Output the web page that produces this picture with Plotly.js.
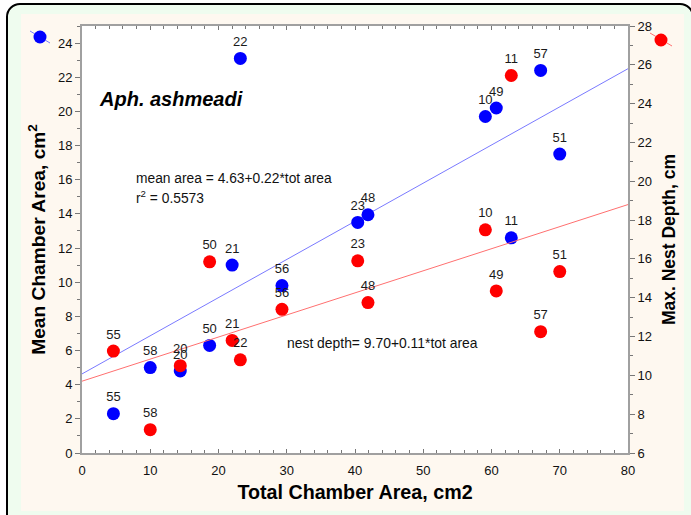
<!DOCTYPE html>
<html>
<head>
<meta charset="utf-8">
<script src="https://cdn.plot.ly/plotly-3.0.1.min.js"></script>
<style>
  html, body { margin:0; padding:0; width:691px; height:515px; overflow:hidden; background:#ffffff; }
  #frame { position:absolute; left:6px; top:3px; width:684px; height:540px; border:2.5px solid #000; border-radius:14px; background:#effcef; }
  #cream { position:absolute; left:21px; top:14px; width:663px; height:497px; background:#fef8f0; }
  #chart { position:absolute; left:0; top:0; width:691px; height:515px; }
</style>
</head>
<body>
<div id="frame"></div>
<div id="cream"></div>
<div id="chart"></div>
<script>
// Nest labels (colony ids)
const nestIds      = ['55','58','20','50','21','22','56','23','48','10','49','11','57','51'];
// Total chamber area, cm2 (x)
const totalArea    = [4.6, 10.0, 14.4, 18.7, 22.0, 23.2, 29.3, 40.4, 41.9, 59.1, 60.7, 62.9, 67.2, 70.0];
// Mean chamber area, cm2 (left axis, blue)
const meanArea     = [2.3, 5.0, 4.8, 6.3, 11.0, 23.1, 9.8, 13.5, 13.95, 19.7, 20.2, 12.6, 22.4, 17.5];
// Max nest depth, cm (right axis, red)
const nestDepth    = [11.25, 7.2, 10.5, 15.85, 11.8, 10.8, 13.4, 15.9, 13.75, 17.5, 14.35, 25.45, 12.25, 15.35];
// Regression lines
const fitX         = [0, 80];
const fitMean      = [4.63, 22.5];
const fitDepth     = [9.7, 18.8];

const FAM = 'Liberation Sans, Arial, sans-serif';
const labelFont = {family:FAM, size:13, color:'#1a1a1a'};

const traces = [
  {x: fitX, y: fitMean, mode:'lines', line:{color:'#7a7aff', width:1}, xaxis:'x', yaxis:'y', hoverinfo:'skip', showlegend:false},
  {x: fitX, y: fitDepth, mode:'lines', line:{color:'#ff7070', width:1}, xaxis:'x', yaxis:'y2', hoverinfo:'skip', showlegend:false},
  {x: totalArea, y: nestDepth, text: nestIds, mode:'markers+text', textposition:'top center',
   textfont: labelFont, marker:{color:'#ff0000', size:13}, xaxis:'x', yaxis:'y2', showlegend:false, cliponaxis:false},
  {x: totalArea, y: meanArea, text: nestIds, mode:'markers+text', textposition:'top center',
   textfont: labelFont, marker:{color:'#0000ff', size:13}, xaxis:'x', yaxis:'y', showlegend:false, cliponaxis:false}
];

const axisCommon = {
  showgrid:false, zeroline:false, showline:true, linecolor:'#a0a0a0', linewidth:2,
  tickcolor:'#777', tickfont:{family:FAM, size:13, color:'#111'}
};

const pxW = 546, pxH = 427;
function px(xp){ return (xp-82)/pxW; }
function py(yp){ return (453-yp)/pxH; }
const rx = 6.5/pxW, ry = 6.5/pxH;

const layout = {
  width:691, height:515,
  margin:{l:82, r:63, t:26, b:62},
  paper_bgcolor:'rgba(0,0,0,0)',
  plot_bgcolor:'#ffffff',
  font:{family:FAM, color:'#000'},
  xaxis: Object.assign({}, axisCommon, {
    range:[0,80], dtick:10, tick0:0, ticks:'inside', ticklen:4, mirror:'ticks',
    ticklabelstandoff:4,
    minor:{dtick:2, ticks:'inside', ticklen:3, tickcolor:'#777'},
    title:{text:'Total Chamber Area, cm2', font:{size:19.7, family:FAM, weight:'bold', color:'#000'}, standoff:9}
  }),
  yaxis: Object.assign({}, axisCommon, {
    range:[0,25], dtick:2, tick0:0, ticks:'outside', ticklen:5,
    minor:{dtick:1, ticks:'outside', ticklen:3, tickcolor:'#777'},
    title:{text:'Mean Chamber Area, cm<sup>2</sup>', font:{size:19.2, family:FAM, weight:'bold', color:'#000'}, standoff:7}
  }),
  yaxis2: Object.assign({}, axisCommon, {
    range:[6,28], dtick:2, tick0:6, ticks:'outside', ticklen:5, overlaying:'y', side:'right',
    minor:{dtick:1, ticks:'outside', ticklen:3, tickcolor:'#777'},
    title:{text:'Max. Nest Depth, cm', font:{size:17.5, family:FAM, weight:'bold', color:'#000'}, standoff:12}
  }),
  annotations:[
    {xref:'paper', yref:'paper', x:px(97), y:py(99), xanchor:'left', yanchor:'middle', showarrow:false,
     text:'<b><i>Aph. ashmeadi</i></b>', font:{size:20, color:'#000'}},
    {xref:'paper', yref:'paper', x:px(134), y:py(179), xanchor:'left', yanchor:'middle', showarrow:false,
     text:'mean area = 4.63+0.22*tot area', font:{size:13.8, color:'#111'}},
    {xref:'paper', yref:'paper', x:px(134), y:py(197), xanchor:'left', yanchor:'middle', showarrow:false,
     text:'r<sup>2</sup> = 0.5573', font:{size:13.8, color:'#111'}},
    {xref:'paper', yref:'paper', x:px(285), y:py(343), xanchor:'left', yanchor:'middle', showarrow:false,
     text:'nest depth= 9.70+0.11*tot area', font:{size:13.9, color:'#111'}}
  ],
  shapes:[
    {type:'line', xref:'paper', yref:'paper', x0:px(30), y0:py(31), x1:px(50), y1:py(43), line:{color:'#7a7aff', width:1}},
    {type:'circle', xref:'paper', yref:'paper', x0:px(40)-rx, x1:px(40)+rx, y0:py(37)-ry, y1:py(37)+ry, fillcolor:'#0000ff', line:{width:0}},
    {type:'line', xref:'paper', yref:'paper', x0:px(650), y0:py(33), x1:px(672), y1:py(46), line:{color:'#ff7070', width:1}},
    {type:'circle', xref:'paper', yref:'paper', x0:px(661)-rx, x1:px(661)+rx, y0:py(40)-ry, y1:py(40)+ry, fillcolor:'#ff0000', line:{width:0}}
  ]
};

Plotly.newPlot('chart', traces, layout, {staticPlot:true, displayModeBar:false});
</script>
</body>
</html>
